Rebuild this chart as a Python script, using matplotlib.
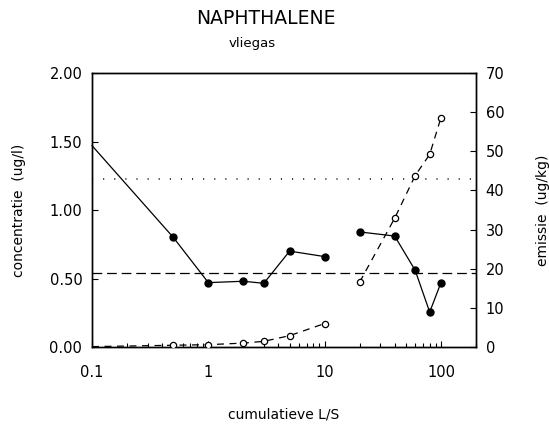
import matplotlib
matplotlib.use("Agg")
import matplotlib.pyplot as plt
from matplotlib.ticker import FixedLocator, LogLocator, NullFormatter

plt.rcParams['font.family'] = ['DejaVu Sans']
plt.rcParams['lines.scale_dashes'] = False

# cumulative L/S, split in two runs (gap between 10 and 20)
ls_a = [0.1, 0.5, 1, 2, 3, 5, 10]
ls_b = [20, 40, 60, 80, 100]

# concentratie (ug/l), filled markers, left axis
conc_a = [1.47, 0.80, 0.47, 0.48, 0.465, 0.70, 0.66]
conc_b = [0.84, 0.81, 0.56, 0.255, 0.47]

# emissie (ug/kg), open markers, right axis
emis_a = [0.1, 0.45, 0.6, 1.0, 1.45, 2.9, 6.0]
emis_b = [16.6, 32.9, 43.8, 49.2, 58.6]

# reference levels (left axis units)
dotted_level = 1.225
dashed_level = 0.543

yticks_left = [0.0, 0.5, 1.0, 1.5, 2.0]
yticks_right = [0, 10, 20, 30, 40, 50, 60, 70]
xticks = [0.1, 1, 10, 100]
xticklabels = ['0.1', '1', '10', '100']

fig = plt.figure(figsize=(5.49, 4.25), dpi=100)
ax = fig.add_axes([0.1676, 0.1835, 0.6994, 0.6447])
ax2 = ax.twinx()

lw = 0.9
ax.axhline(dotted_level, color='black', lw=1.1, linestyle=(0, (0.8, 7.2)))
ax.axhline(dashed_level, color='black', lw=lw, linestyle=(0, (7, 3.5)))

for xs, ys in [(ls_a, conc_a), (ls_b, conc_b)]:
    mk = list(range(1, len(xs))) if xs[0] == 0.1 else None
    ax.plot(xs, ys, color='black', lw=lw, marker='o', markersize=5,
            markerfacecolor='black', markeredgecolor='black', markevery=mk,
            clip_on=False, zorder=3)

for xs, ys in [(ls_a, emis_a), (ls_b, emis_b)]:
    mk = list(range(1, len(xs))) if xs[0] == 0.1 else None
    ax2.plot(xs, ys, color='black', lw=lw, linestyle=(0, (5, 4)),
             marker='o', markersize=4.5, markerfacecolor='white',
             markeredgecolor='black', markeredgewidth=0.9, markevery=mk,
             zorder=3)

ax.set_xscale('log')
ax.set_xlim(0.1, 200)
ax.set_ylim(0, 2)
ax2.set_ylim(0, 70)

ax.xaxis.set_major_locator(FixedLocator(xticks))
ax.set_xticklabels(xticklabels)
ax.xaxis.set_minor_locator(LogLocator(base=10, subs=range(2, 10)))
ax.xaxis.set_minor_formatter(NullFormatter())
ax.set_yticks(yticks_left)
ax.set_yticklabels(['%.2f' % v for v in yticks_left])
ax2.set_yticks(yticks_right)
ax2.set_yticklabels([str(v) for v in yticks_right])

ax.tick_params(axis='x', which='major', direction='in', length=4, width=0.8,
               labelsize=10.5, pad=13)
ax.tick_params(axis='x', which='minor', direction='in', length=3, width=0.8)
ax.tick_params(axis='y', direction='in', length=4, width=0.8, labelsize=10.5,
               pad=7)
ax2.tick_params(axis='y', direction='in', length=4, width=0.8, labelsize=10.5,
                pad=7)

for a in (ax, ax2):
    for s in a.spines.values():
        s.set_linewidth(1.0)

ax.set_ylabel('concentratie  (ug/l)', fontsize=10, labelpad=17)
ax2.set_ylabel('emissie  (ug/kg)', fontsize=10, labelpad=23)
ax.set_xlabel('cumulatieve L/S', fontsize=10, labelpad=20)

fig.text(266 / 549, 1 - 19 / 425, 'NAPHTHALENE', ha='center', va='center',
         fontsize=13.5)
fig.text(252 / 549, 1 - 44 / 425, 'vliegas', ha='center', va='center',
         fontsize=9.5)

fig.savefig('out.png', dpi=100)
